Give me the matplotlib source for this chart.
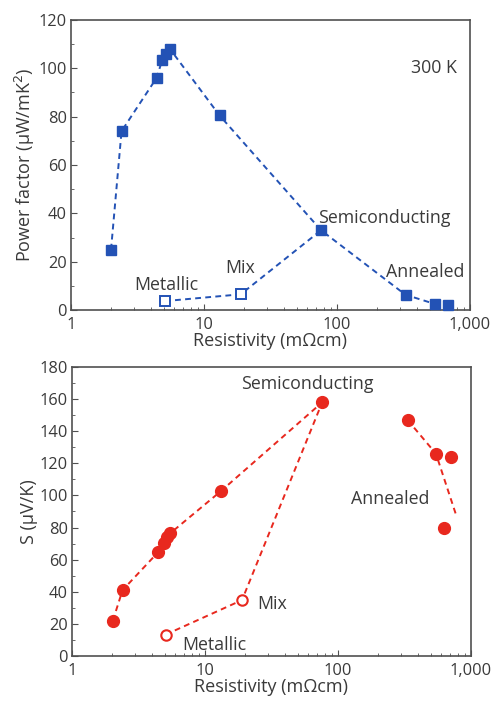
import matplotlib
matplotlib.use("Agg")
import matplotlib.pyplot as plt
from matplotlib.ticker import FixedLocator, MultipleLocator, LogLocator, NullFormatter

plt.rcParams['font.family'] = ['Open Sans', 'DejaVu Sans']

# ---- Top panel: power factor ----
pf_x = [2.0, 2.4, 4.4, 4.86, 5.15, 5.55, 13.1, 76, 328, 546, 687]
pf_y = [25, 74, 96, 103.5, 106, 108, 80.5, 33, 6.3, 2.5, 2]
pf_open_x = [5.09, 18.9]
pf_open_y = [3.7, 6.5]
pf_open_line_x = [5.09, 18.9, 76]
pf_open_line_y = [3.7, 6.5, 33]

# ---- Bottom panel: Seebeck ----
s_x = [2.03, 2.4, 4.43, 4.95, 5.2, 5.5, 13.2, 76.2]
s_y = [22, 41, 64.5, 70.5, 74, 76.5, 102.7, 158]
s_ann_x = [334, 546, 703, 623]
s_ann_y = [147, 126, 124, 80]
s_ann_line_x = [334, 546, 780]
s_ann_line_y = [147, 126, 87]
s_open_x = [5.06, 19.0]
s_open_y = [13.3, 34.8]
s_open_line_x = [5.06, 19.0, 76.2]
s_open_line_y = [13.3, 34.8, 158]

xticks = [1, 10, 100, 1000]
xticklabels = ["1", "10", "100", "1,000"]

blue = "#2352b5"
red = "#e8281e"
txt = "#3a3a3a"
frame = "#505050"

fig = plt.figure(figsize=(4.91, 7.03), dpi=100)
ax1 = fig.add_axes([0.1446, 0.559, 0.8124, 0.4126])
ax2 = fig.add_axes([0.1466, 0.0669, 0.8124, 0.4111])

dash = (0, (3, 2.2))
lab_fs = 13
tick_fs = 11.8

def style(ax, ymax, ylabel):
    ax.set_xscale('log')
    ax.set_xlim(1, 1000)
    ax.set_ylim(0, ymax)
    ax.xaxis.set_major_locator(FixedLocator(xticks))
    ax.set_xticklabels(xticklabels)
    ax.xaxis.set_minor_locator(LogLocator(base=10, subs=range(2, 10)))
    ax.xaxis.set_minor_formatter(NullFormatter())
    ax.yaxis.set_major_locator(MultipleLocator(20))
    ax.yaxis.set_minor_locator(MultipleLocator(10))
    ax.tick_params(which='both', direction='in', colors=frame, labelcolor=txt,
                   labelsize=tick_fs)
    ax.tick_params(which='major', length=4)
    ax.tick_params(which='minor', length=2.5)
    ax.tick_params(axis='x', pad=5)
    ax.tick_params(axis='y', pad=3)
    for sp in ax.spines.values():
        sp.set_color(frame)
        sp.set_linewidth(1.2)
    ax.set_xlabel("Resistivity (mΩcm)", color=txt, fontsize=lab_fs, labelpad=-1)
    ax.set_ylabel(ylabel, color=txt, fontsize=lab_fs, labelpad=1)

# Top panel
ax1.plot(pf_x, pf_y, linestyle=dash, color=blue, lw=1.4, marker='s', ms=7.5,
         mfc=blue, mec=blue, clip_on=False, zorder=3)
ax1.plot(pf_open_line_x, pf_open_line_y, linestyle=dash, color=blue, lw=1.4, zorder=2)
ax1.plot(pf_open_x, pf_open_y, linestyle='none', marker='s', ms=7, mfc='white',
         mec=blue, mew=1.4, zorder=4)
style(ax1, 120, "Power factor (μW/mK$^2$)")
ax1.text(800, 100, "300 K", ha='right', va='center', color=txt, fontsize=12.8)
ax1.text(72, 38, "Semiconducting", ha='left', va='center', color=txt, fontsize=12.8)
ax1.text(18.7, 17.4, "Mix", ha='center', va='center', color=txt, fontsize=12.8)
ax1.text(5.24, 10.5, "Metallic", ha='center', va='center', color=txt, fontsize=12.8)
ax1.text(460, 15.8, "Annealed", ha='center', va='center', color=txt, fontsize=12.8)

# Bottom panel
ax2.plot(s_x, s_y, linestyle=dash, color=red, lw=1.4, marker='o', ms=8.5,
         mfc=red, mec=red, zorder=3)
ax2.plot(s_open_line_x, s_open_line_y, linestyle=dash, color=red, lw=1.4, zorder=2)
ax2.plot(s_open_x, s_open_y, linestyle='none', marker='o', ms=7.5, mfc='white',
         mec=red, mew=1.5, zorder=4)
ax2.plot(s_ann_line_x, s_ann_line_y, linestyle=dash, color=red, lw=1.4, zorder=2)
ax2.plot(s_ann_x, s_ann_y, linestyle='none', marker='o', ms=8.5, mfc=red, mec=red,
         zorder=3)
style(ax2, 180, "S (μV/K)")
ax2.text(58.5, 169.6, "Semiconducting", ha='center', va='center', color=txt, fontsize=12.8)
ax2.text(247, 98, "Annealed", ha='center', va='center', color=txt, fontsize=12.8)
ax2.text(32, 32.4, "Mix", ha='center', va='center', color=txt, fontsize=12.8)
ax2.text(11.7, 6.8, "Metallic", ha='center', va='center', color=txt, fontsize=12.8)

fig.savefig("out.png", dpi=100)
